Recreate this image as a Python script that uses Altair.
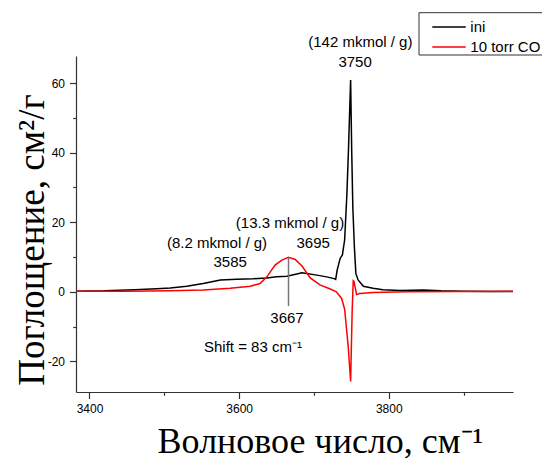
import altair as alt
import pandas as pd

# ---- data ----
series_names = ["ini", "10 torr CO"]
series_colors = ["#000000", "#ff0000"]

black_x = [3382, 3420, 3460, 3490, 3508, 3530, 3552, 3575, 3597, 3619, 3637, 3650, 3664,
           3684, 3704, 3717, 3727, 3729, 3731, 3735, 3738, 3741, 3744, 3746, 3749, 3750.5,
           3752, 3754, 3756, 3759, 3766, 3779, 3792, 3815, 3846, 3870, 3900, 3935, 3966]
black_y = [0.2, 0.3, 0.6, 0.9, 1.1, 1.6, 2.4, 3.4, 3.6, 3.75, 4.0, 4.3, 4.5,
           5.5, 4.8, 4.3, 3.8, 3.6, 6.2, 9.6, 10.6, 14.9, 28, 40, 60.9, 40,
           24, 13, 5.3, 3.4, 1.6, 1.0, 0.6, 0.4, 0.5, 0.3, 0.2, 0.1, 0.1]

red_x = [3382, 3450, 3508, 3552, 3588, 3615, 3628, 3637, 3648, 3657, 3666, 3675, 3684,
         3695, 3708, 3721, 3730, 3737, 3741, 3745.8, 3749, 3751, 3752.5, 3753.5, 3757,
         3761, 3779, 3823, 3966]
red_y = [0.2, 0.2, 0.3, 0.5, 1.0, 1.6, 2.4, 4.3, 7.7, 9.1, 9.9, 9.3, 7.4,
         4.0, 2.0, 0.9, 0.0, -1.9, -5.0, -15.8, -25.8, -6, 3.2, 3.0, -0.8,
         -0.5, -0.2, 0.0, 0.2]

x_ticks_major = [3400, 3600, 3800]
x_ticks_minor = [3500, 3700, 3900]
y_ticks_major = [-20, 0, 20, 40, 60]
y_ticks_minor = [-10, 10, 30, 50]
x_domain = [3382, 3966]
y_domain = [-28.8, 67.8]

ann_text = ["(142 mkmol / g)", "3750", "(13.3 mkmol / g)", "(8.2 mkmol / g)",
            "3695", "3585", "3667", "Shift = 83 cm\u207b\u00b9"]
ann_x = [3762, 3755, 3668, 3570.5, 3699, 3588, 3664, 3618.5]
ann_y = [71.9, 66.0, 19.9, 13.9, 13.9, 8.5, -7.4, -16.0]

marker_x = [3666]
marker_y = [9.9]
marker_y2 = [-4.1]

x_title = "Волновое число, см\u207b\u00b9"
y_title = "Поглощение, см\u00b2/г"

# ---- tables ----
df_black = pd.DataFrame({"wn": black_x, "val": black_y, "series": series_names[0]})
df_red = pd.DataFrame({"wn": red_x, "val": red_y, "series": series_names[1]})
df_ann = pd.DataFrame({"wn": ann_x, "val": ann_y, "label": ann_text})
df_mark = pd.DataFrame({"wn": marker_x, "y1": marker_y, "y2": marker_y2})

xs = alt.Scale(domain=x_domain, nice=False, zero=False)
ys = alt.Scale(domain=y_domain, nice=False, zero=False)

common = dict(grid=False, domainColor="#333", domainWidth=1.2, tickColor="#333",
              tickWidth=1.2, labelFont="Liberation Sans", labelFontSize=12,
              labelColor="#000", titleFont="Liberation Serif",
              titleFontWeight="normal", titleColor="#000")

x_axis_major = alt.Axis(orient="bottom", values=x_ticks_major, tickSize=6.5, labelPadding=5,
                        labelExpr="'' + datum.value", title=x_title, titleX=244, titleY=60,
                        titleFontSize=36, titleAlign="center", titleBaseline="alphabetic",
                        **common)
y_axis_major = alt.Axis(orient="left", values=y_ticks_major, tickSize=6.5, labelPadding=5,
                        labelExpr="'' + datum.value", title=y_title, titleX=-32.4, titleY=183.5,
                        titleFontSize=37, titleAngle=270, titleAlign="center",
                        titleBaseline="alphabetic", **common)
x_axis_minor = alt.Axis(orient="bottom", values=x_ticks_minor, tickSize=3.3, labels=False,
                        domain=False, title=None, grid=False, tickColor="#333", tickWidth=1.2)
y_axis_minor = alt.Axis(orient="left", values=y_ticks_minor, tickSize=3.3, labels=False,
                        domain=False, title=None, grid=False, tickColor="#333", tickWidth=1.2)

color = alt.Color("series:N", scale=alt.Scale(domain=series_names, range=series_colors),
                  legend=None)

black = alt.Chart(df_black).mark_line(strokeWidth=1.5).encode(
    x=alt.X("wn:Q", scale=xs, axis=x_axis_major),
    y=alt.Y("val:Q", scale=ys, axis=y_axis_major),
    color=color)
red = alt.Chart(df_red).mark_line(strokeWidth=1.5).encode(
    x=alt.X("wn:Q", scale=xs, axis=None),
    y=alt.Y("val:Q", scale=ys, axis=None),
    color=color)
rule = alt.Chart(df_mark).mark_rule(color="#777", strokeWidth=1.5).encode(
    x=alt.X("wn:Q", scale=xs, axis=x_axis_minor),
    y=alt.Y("y1:Q", scale=ys, axis=y_axis_minor),
    y2="y2:Q")
text = alt.Chart(df_ann).mark_text(font="Liberation Sans", fontSize=15, color="#000",
                                   align="center", baseline="middle").encode(
    x=alt.X("wn:Q", scale=xs, axis=None),
    y=alt.Y("val:Q", scale=ys, axis=None),
    text="label:N")

# ---- legend box (decoration, pixel placement relative to the plot) ----
leg_df = pd.DataFrame({"name": series_names, "color": series_colors})
leg_box = alt.Chart(leg_df.head(1)).mark_rect(
    fillOpacity=0, stroke="#333", strokeWidth=1).encode(
    x=alt.value(343), x2=alt.value(475), y=alt.value(-43.3), y2=alt.value(-1))
leg_layers = [leg_box]
for i, (nm, col) in enumerate(zip(series_names, series_colors)):
    yy = -29 + 20 * i
    one = leg_df.iloc[[i]]
    leg_layers.append(alt.Chart(one).mark_rule(color=col, strokeWidth=1.5).encode(
        x=alt.value(356.3), x2=alt.value(389.7), y=alt.value(yy)))
    leg_layers.append(alt.Chart(one).mark_text(
        font="Liberation Sans", fontSize=15, color="#000", align="left",
        baseline="middle").encode(x=alt.value(394.3), y=alt.value(yy), text="name:N"))

chart = alt.layer(black, red, rule, text, *leg_layers).resolve_axis(
    x="independent", y="independent"
).properties(
    width=437, height=336,
    autosize=alt.AutoSizeParams(type="none"),
    padding={"left": 68, "top": 48, "right": 29, "bottom": 68},
).configure_view(stroke=None)

chart.save("out.html", embed_options={"renderer": "svg", "actions": False})
